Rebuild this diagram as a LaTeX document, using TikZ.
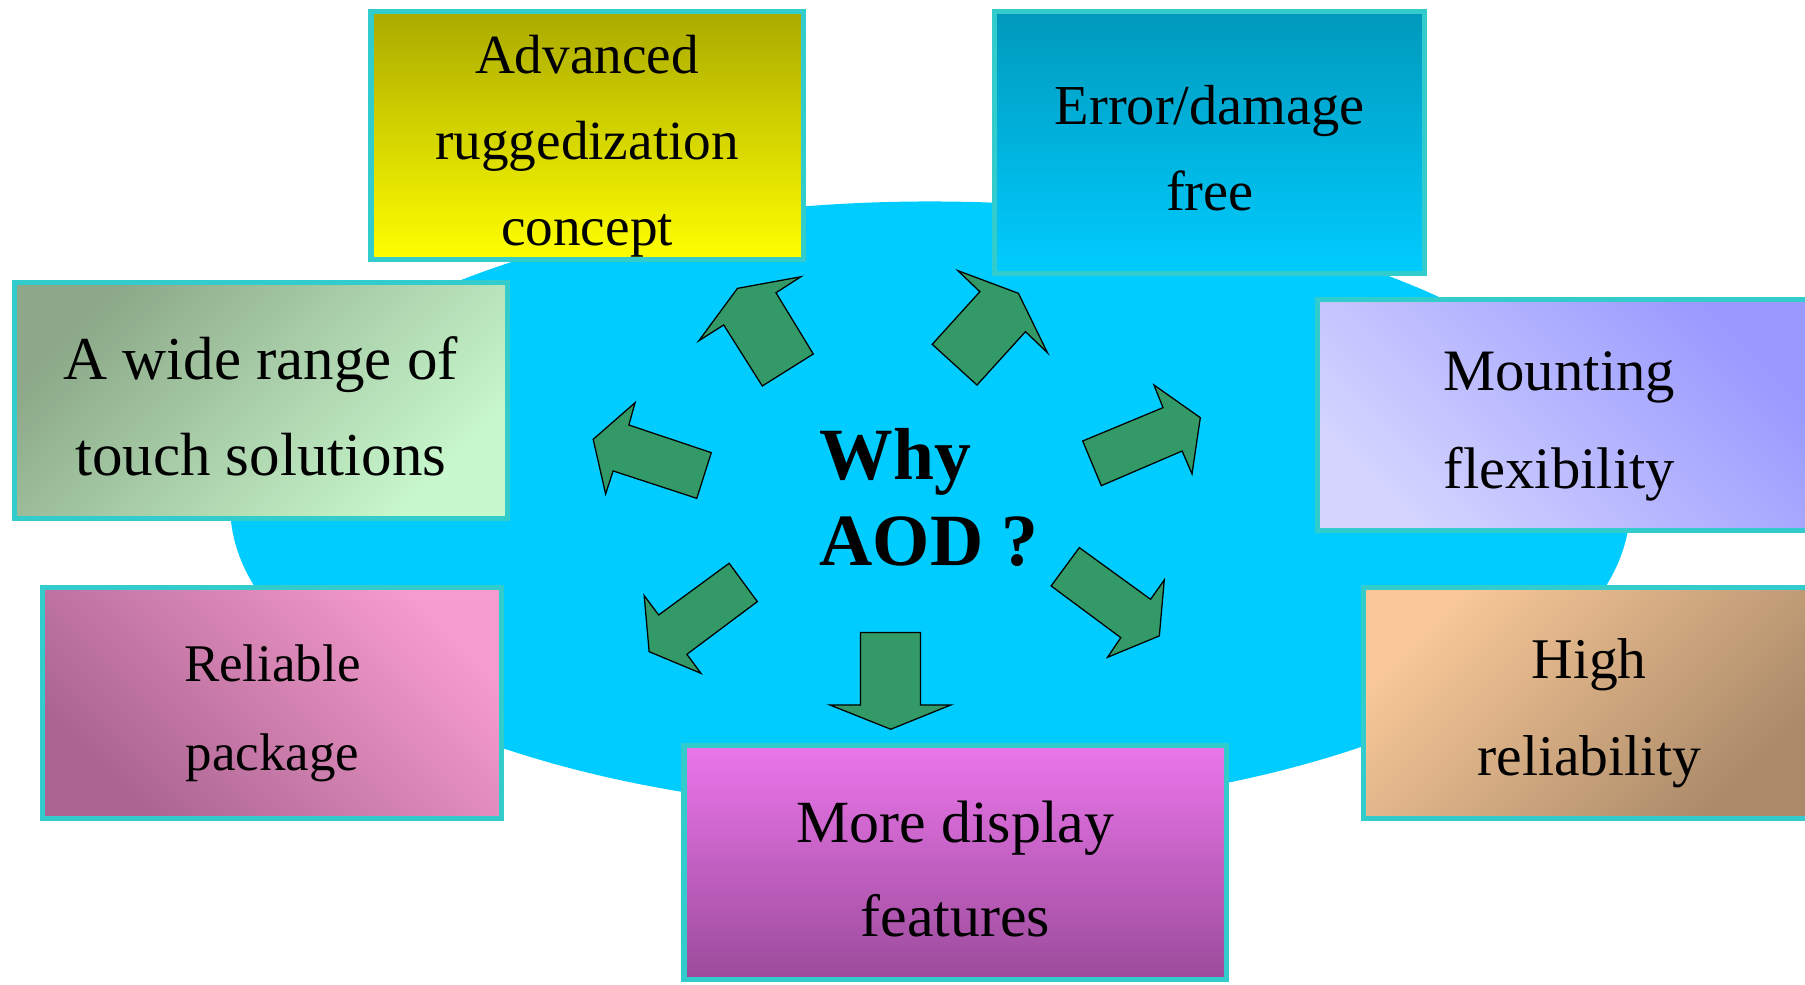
\documentclass[tikz,border=0pt]{standalone}
\usepackage{fontspec}
\setmainfont{Liberation Serif}
\usetikzlibrary{shapes.geometric}
\definecolor{ellcol}{HTML}{00CCFF}
\definecolor{boxborder}{HTML}{33CCCC}
\definecolor{arrowgreen}{HTML}{339966}
\definecolor{advtop}{HTML}{AAAA00}
\definecolor{advbot}{HTML}{FFFF00}
\definecolor{errtop}{HTML}{0099BB}
\definecolor{errbot}{HTML}{00CCFF}
\definecolor{widedark}{HTML}{8CA888}
\definecolor{widelight}{HTML}{C8F8CD}
\definecolor{mountdark}{HTML}{9999FF}
\definecolor{mountlight}{HTML}{D4D4FF}
\definecolor{reldark}{HTML}{AA6491}
\definecolor{rellight}{HTML}{F59BCD}
\definecolor{highlight}{HTML}{F8C898}
\definecolor{highdark}{HTML}{AA8A69}
\definecolor{moretop}{HTML}{EB76EB}
\definecolor{morebot}{HTML}{9B4B9B}
\tikzset{
  featbox/.style={draw=boxborder, line width=4.5pt, inner sep=0pt},
  boxtext/.style={inner sep=0pt, align=center, text=black},
  blockarrow/.style={fill=arrowgreen, draw=black, line width=1.1pt, line join=miter},
}
\begin{document}
\begin{tikzpicture}[x=1pt,y=-1pt]
\useasboundingbox (0,0) rectangle (1568,855);
\clip (0,0) rectangle (1568,855);
\fill[white] (0,0) rectangle (1568,855);
% background ellipse
\node[ellipse, fill=ellcol, minimum width=1216pt, minimum height=530pt, inner sep=0pt] (bg) at (808,440) {};
% boxes
\node[featbox, minimum width=375.5pt, minimum height=215.5pt,
      top color=advtop, bottom color=advbot] (adv) at (510,118) {};
\node[boxtext, font=\fontsize{48}{75}\selectfont] (advtext) at ([yshift=-9pt]adv.center)
      {Advanced\\ruggedization\\concept};
\node[featbox, minimum width=373.5pt, minimum height=227.5pt,
      top color=errtop, bottom color=errbot] (err) at (1051,124) {};
\node[boxtext, font=\fontsize{49}{75}\selectfont] (errtext) at ([yshift=-5pt]err.center)
      {Error/damage\\free};
\node[featbox, minimum width=428.5pt, minimum height=205.5pt,
      top color=widedark, bottom color=widelight, shading angle=45] (wide) at (226.5,348) {};
\node[boxtext, font=\fontsize{53}{83}\selectfont] (widetext) at ([yshift=-5pt]wide.center)
      {A wide range of\\touch solutions};
\node[featbox, minimum width=425.5pt, minimum height=200.5pt,
      top color=mountdark, bottom color=mountlight, shading angle=-45] (mount) at (1357.5,360.5) {};
\node[boxtext, font=\fontsize{51}{85}\selectfont] (mounttext) at ([xshift=-3pt,yshift=-10pt]mount.center)
      {Mounting\\flexibility};
\node[featbox, minimum width=398.5pt, minimum height=200.5pt,
      top color=rellight, bottom color=reldark, shading angle=-45] (rel) at (236.5,610.5) {};
\node[boxtext, font=\fontsize{46}{77}\selectfont] (reltext) at ([yshift=-9pt]rel.center)
      {Reliable\\package};
\node[featbox, minimum width=385.5pt, minimum height=200.5pt,
      top color=highlight, bottom color=highdark, shading angle=45] (high) at (1377.5,610.5) {};
\node[boxtext, font=\fontsize{50}{84}\selectfont] (hightext) at ([xshift=3pt,yshift=-9pt]high.center)
      {High\\reliability};
\node[featbox, minimum width=471.5pt, minimum height=203.5pt,
      top color=moretop, bottom color=morebot] (more) at (830,749) {};
\node[boxtext, font=\fontsize{52}{82}\selectfont] (moretext) at ([yshift=-6pt]more.center)
      {More display\\features};
% block arrows
\draw[blockarrow] (607.1,296) -- (640.6,250.5) -- (695.7,240.4) -- (674.1,254.3) -- (706.5,307.5) -- (662.2,335.3) -- (628.7,282.3) -- cycle;
\draw[blockarrow] (832.1,235.1) -- (884.7,254.8) -- (909.9,306.4) -- (890.8,288.1) -- (848.7,334.5) -- (809.8,299.1) -- (851.2,253.4) -- cycle;
\draw[blockarrow] (1002.4,334.4) -- (1042.7,362.8) -- (1035.5,411.7) -- (1026.9,391.8) -- (956.7,421.9) -- (940.5,383.1) -- (1010.3,354.1) -- cycle;
\draw[blockarrow] (937.6,475.7) -- (999.5,520.6) -- (1011.4,503.8) -- (1007.1,552.4) -- (962.1,571) -- (973.6,553.9) -- (913.1,509) -- cycle;
\draw[blockarrow] (747.5,549.5) -- (799.7,549.5) -- (799.7,612.4) -- (826,612.4) -- (773.8,633.5) -- (720.9,612.4) -- (747.5,612.4) -- cycle;
\draw[blockarrow] (633.4,489.3) -- (657.9,522.6) -- (596.7,568.4) -- (608.9,584.9) -- (563.9,566.1) -- (559.6,517.4) -- (572.2,534.2) -- cycle;
\draw[blockarrow] (551.7,349.8) -- (515.3,381.6) -- (526.1,429.1) -- (532.6,409.1) -- (605.3,432.9) -- (617.9,393.2) -- (546.3,369.2) -- cycle;
% centre title
\node[align=left, inner sep=0pt, font=\bfseries\fontsize{64}{75}\selectfont] (why) at (807,432) {Why\\AOD ?};
\end{tikzpicture}
\end{document}
